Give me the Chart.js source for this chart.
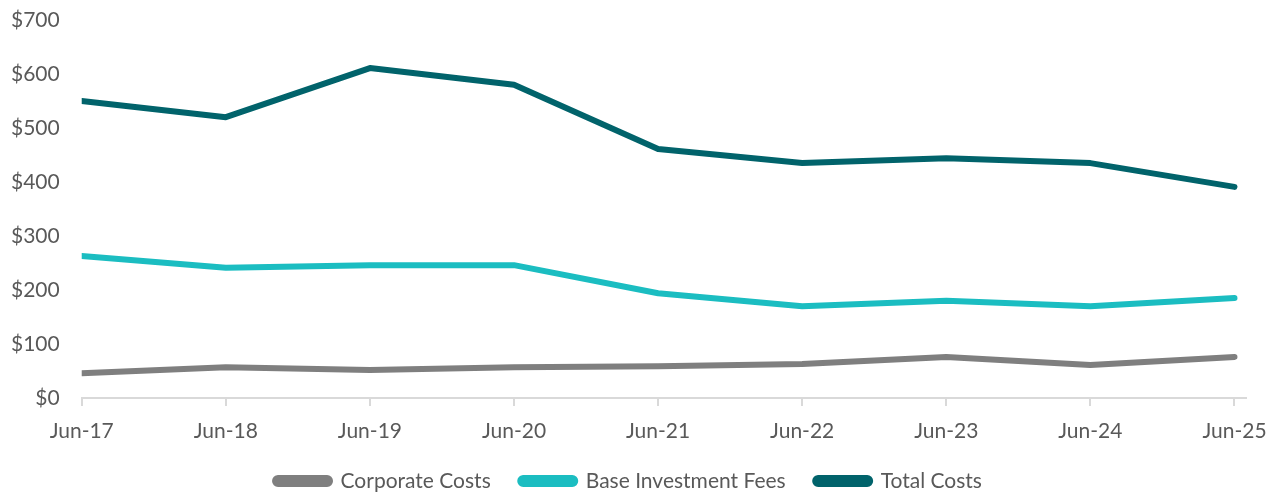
<!DOCTYPE html>
<html>
<head>
<meta charset="utf-8">
<script src="https://cdn.jsdelivr.net/npm/chart.js@4/dist/chart.umd.min.js"></script>
<style>
  html, body { margin: 0; padding: 0; background: #fff; }
  #wrap { width: 1283px; height: 494px; }
</style>
</head>
<body>
<div id="wrap"><canvas id="c"></canvas></div>
<script>
// values (US$)
const categories = ['Jun-17','Jun-18','Jun-19','Jun-20','Jun-21','Jun-22','Jun-23','Jun-24','Jun-25'];
const corporateCosts = [46, 57, 52, 57, 59, 63, 76, 61, 76];
const baseInvestmentFees = [263, 241, 246, 246, 194, 170, 180, 170, 185];
const totalCosts = [550, 520, 611, 580, 461, 435, 444, 435, 391];
const yTicks = [0, 100, 200, 300, 400, 500, 600, 700];

const textColor = '#595959';
const font = { family: 'Lato', size: 21 };

function series(label, values, color) {
  return {
    label,
    data: values.map((y, i) => ({ x: i, y })),
    borderColor: color,
    backgroundColor: color,
    borderWidth: 6,
    borderCapStyle: 'round',
    borderJoinStyle: 'round',
    pointRadius: 0,
    tension: 0
  };
}

new Chart(document.getElementById('c').getContext('2d'), {
  type: 'line',
  data: {
    datasets: [
      series('Corporate Costs', corporateCosts, '#7f7f7f'),
      series('Base Investment Fees', baseInvestmentFees, '#1bbdc1'),
      series('Total Costs', totalCosts, '#01636b')
    ]
  },
  options: {
    responsive: true,
    maintainAspectRatio: false,
    animation: false,
    layout: { padding: { left: 11, right: 37, top: 20, bottom: -7.5 } },
    scales: {
      x: {
        type: 'linear',
        min: 0,
        max: categories.length - 1 + 0.08,
        afterBuildTicks: (scale) => { scale.ticks = categories.map((_, i) => ({ value: i })); },
        // chart.js counts tick padding twice in the axis height, trim it back
        afterFit: (scale) => { scale.height = 43; },
        grid: { display: true, drawOnChartArea: false, drawTicks: true, tickLength: 8, color: '#d9d9d9', lineWidth: 2 },
        border: { display: true, color: '#d9d9d9', width: 2 },
        ticks: {
          color: textColor, font, padding: 13, autoSkip: false, maxRotation: 0,
          callback: (v) => categories[v]
        }
      },
      y: {
        min: yTicks[0],
        max: yTicks[yTicks.length - 1],
        afterBuildTicks: (scale) => { scale.ticks = yTicks.map(v => ({ value: v })); },
        grid: { display: true, drawOnChartArea: false, drawTicks: true, tickLength: 22, color: 'rgba(0,0,0,0)' },
        border: { display: false },
        ticks: { color: textColor, font, padding: 0, callback: (v) => '$' + v }
      }
    },
    plugins: {
      legend: {
        position: 'bottom',
        labels: {
          color: textColor,
          font: { family: 'Lato', size: 21 },
          boxWidth: 55,
          boxHeight: 6,
          useBorderRadius: true,
          borderRadius: 3,
          padding: 29.5
        }
      },
      tooltip: { enabled: false }
    }
  }
});
</script>
</body>
</html>
